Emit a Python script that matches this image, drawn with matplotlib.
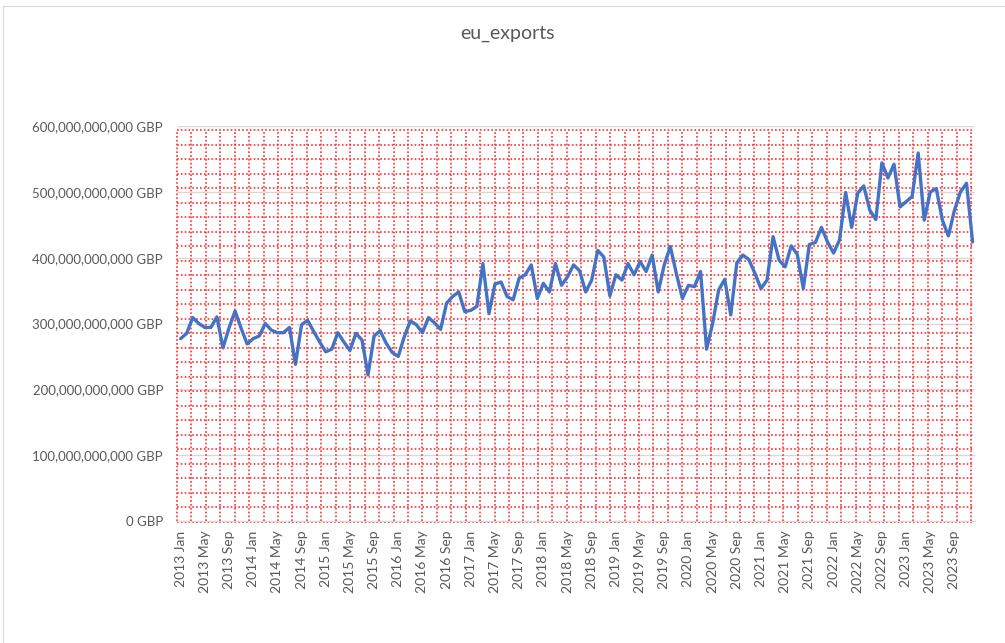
import matplotlib
matplotlib.use("Agg")
import matplotlib.pyplot as plt
from matplotlib.lines import Line2D
from matplotlib.ticker import FuncFormatter
import numpy as np
import pandas as pd

# monthly EU exports, billions of GBP, Jan 2013 .. Dec 2023
start_month = "2013-01"
exports_bn = [
    277, 285, 309, 300, 294, 294, 310, 263, 293, 319, 293, 269,
    277, 281, 300, 290, 286, 286, 294, 238, 298, 305, 288, 272,
    257, 261, 286, 272, 259, 285, 275, 222, 281, 289, 270, 256,
    250, 280, 304, 298, 286, 309, 301, 291, 331, 341, 348, 318,
    320, 326, 391, 315, 360, 363, 341, 336, 369, 374, 389, 338,
    361, 348, 391, 358, 371, 389, 380, 348, 366, 411, 401, 342,
    374, 366, 391, 374, 394, 379, 404, 348, 389, 417, 376, 338,
    358, 356, 379, 261, 300, 351, 367, 313, 392, 404, 397, 376,
    353, 366, 432, 396, 386, 418, 405, 353, 420, 423, 446, 424,
    407, 427, 499, 446, 498, 509, 472, 458, 544, 521, 542, 477,
    485, 493, 559, 457, 500, 505, 457, 433, 472, 500, 513, 424,
]
y_ticks = [0, 100e9, 200e9, 300e9, 400e9, 500e9, 600e9]
title = "eu_exports"

months = pd.date_range(start_month, periods=len(exports_bn), freq="MS")
labels = [d.strftime("%Y %b") for d in months]
values = np.array(exports_bn) * 1e9
x = np.arange(len(values))

plt.rcParams["font.family"] = ["Lato", "DejaVu Sans"]
txt = "#595959"

fig = plt.figure(figsize=(10.05, 6.43), dpi=100)
ax = fig.add_axes([177 / 1005, 122 / 643, 798 / 1005, 395 / 643])

# sheet edge peeking round the chart
fig.add_artist(Line2D([0.003, 1.0], [0.991, 0.991], color="#d9d9d9", lw=0.8))
fig.add_artist(Line2D([0.003, 0.003], [0.0, 0.991], color="#d9d9d9", lw=0.8))

ax.set_xlim(-0.6, len(values) - 0.6)
ax.set_ylim(0, 600e9)

# major value gridlines
for v in y_ticks:
    ax.axhline(v, color="#d9d9d9", lw=1.0, zorder=1)

# red dotted square pattern over the plot area
red = "#ff3030"
for f in np.linspace(0, 0.995, 56):
    ax.plot([f, f], [0, 0.989], transform=ax.transAxes, color=red,
            lw=1.2, ls=(0, (1, 1.3)), zorder=2, clip_on=False)
for f in np.linspace(-0.002, 0.989, 28):
    ax.plot([0, 0.997], [f, f], transform=ax.transAxes, color=red,
            lw=1.2, ls=(0, (1, 1.3)), zorder=2, clip_on=False)

ax.plot(x, values, color="#4472C4", lw=2.4, zorder=3,
        solid_joinstyle="round", solid_capstyle="round")

ax.set_yticks(y_ticks)
ax.yaxis.set_major_formatter(FuncFormatter(lambda v, p: f"{int(round(v)):,} GBP"))
ax.set_xticks(x[::4])
ax.set_xticklabels(labels[::4], rotation=90)

ax.tick_params(axis="y", length=0, pad=10, labelsize=9.5, labelcolor=txt)
ax.tick_params(axis="x", length=0, pad=7, labelsize=10, labelcolor=txt)
for s in ["top", "right", "left"]:
    ax.spines[s].set_visible(False)
ax.spines["bottom"].set_color("#d9d9d9")

fig.text(0.505, 0.948, title, ha="center", va="center", fontsize=14, color=txt)

fig.savefig("out.png", dpi=100)
